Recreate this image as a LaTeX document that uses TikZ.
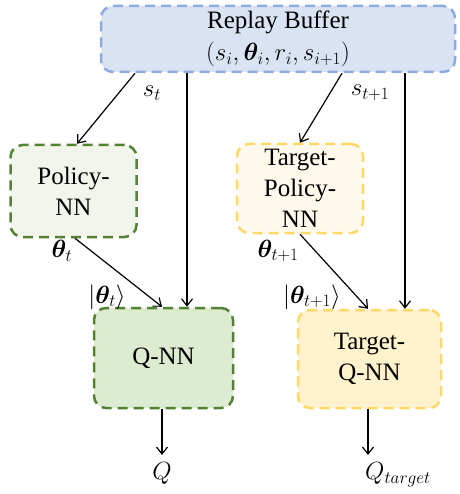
\documentclass[tikz,border=0pt]{standalone}
\usepackage{amsmath,amssymb,bm}
\usepackage{fontspec}
\setmainfont{Liberation Serif}
\usetikzlibrary{arrows.meta}
\definecolor{bufFill}{RGB}{218,227,243}
\definecolor{bufLine}{RGB}{143,170,220}
\definecolor{grnLine}{RGB}{84,130,53}
\definecolor{grnLight}{RGB}{241,246,237}
\definecolor{grnFill}{RGB}{221,235,209}
\definecolor{ylwLine}{RGB}{255,217,102}
\definecolor{ylwLight}{RGB}{255,249,236}
\definecolor{ylwFill}{RGB}{255,242,204}
\tikzset{
  boxbase/.style={rounded corners=12pt, line width=2.5pt, dash pattern=on 10pt off 6pt, align=center, font=\fontsize{25}{31}\selectfont, inner sep=0pt},
  conn/.style={-{Straight Barb[length=7pt,width=11pt]}, line width=1.2pt},
  lbl/.style={font=\fontsize{25}{27}\selectfont, inner sep=0pt}
}
\begin{document}
\begin{tikzpicture}[x=1pt,y=-1pt]
\useasboundingbox (0,0) rectangle (459,494);
\node[boxbase, draw=bufLine, fill=bufFill, minimum width=354pt, minimum height=66pt] (buf) at (278,39) {Replay Buffer\\[1pt] $(s_i,\bm{\theta}_i,r_i,s_{i+1})$};
\node[boxbase, draw=grnLine, fill=grnLight, minimum width=126pt, minimum height=92pt] (pol) at (73.5,191) {Policy-\\NN};
\node[boxbase, draw=ylwLine, fill=ylwLight, minimum width=126pt, minimum height=89pt] (tpol) at (300,188.5) {Target-\\Policy-\\NN};
\node[boxbase, draw=grnLine, fill=grnFill, minimum width=139pt, minimum height=100pt] (q) at (163.5,358) {Q-NN};
\node[boxbase, draw=ylwLine, fill=ylwFill, minimum width=143pt, minimum height=98pt] (tq) at (369.5,359) {Target-\\Q-NN};
\coordinate (qout) at (162,455);
\coordinate (tqout) at (368,455);
\draw[conn] (buf.south -| 135,0) -- (pol.north -| 77,0);
\draw[conn] (buf.south -| 187,0) -- (q.north -| 187,0);
\draw[conn] (buf.south -| 342,0) -- (tpol.north -| 300,0);
\draw[conn] (buf.south -| 405,0) -- (tq.north -| 405,0);
\draw[conn] (pol.south -| 75,0) -- (q.north -| 162,0);
\draw[conn] (tpol.south -| 300,0) -- (tq.north -| 368,0);
\draw[conn] (q.south -| 162,0) -- (qout);
\draw[conn] (tq.south -| 368,0) -- (tqout);
\node[lbl] (lst) at (152,93) {$s_t$};
\node[lbl] (lst1) at (370,93) {$s_{t+1}$};
\node[lbl] (lth) at (62,251) {$\bm{\theta}_t$};
\node[lbl] (lth1) at (278,251) {$\bm{\theta}_{t+1}$};
\node[lbl] (kth) at (107,297) {$|\bm{\theta}_t\rangle$};
\node[lbl] (kth1) at (312,297) {$|\bm{\theta}_{t+1}\rangle$};
\node[lbl] (lq) at (162,473) {$Q$};
\node[lbl] (lqt) at (398,475) {$Q_{target}$};
\end{tikzpicture}
\end{document}
